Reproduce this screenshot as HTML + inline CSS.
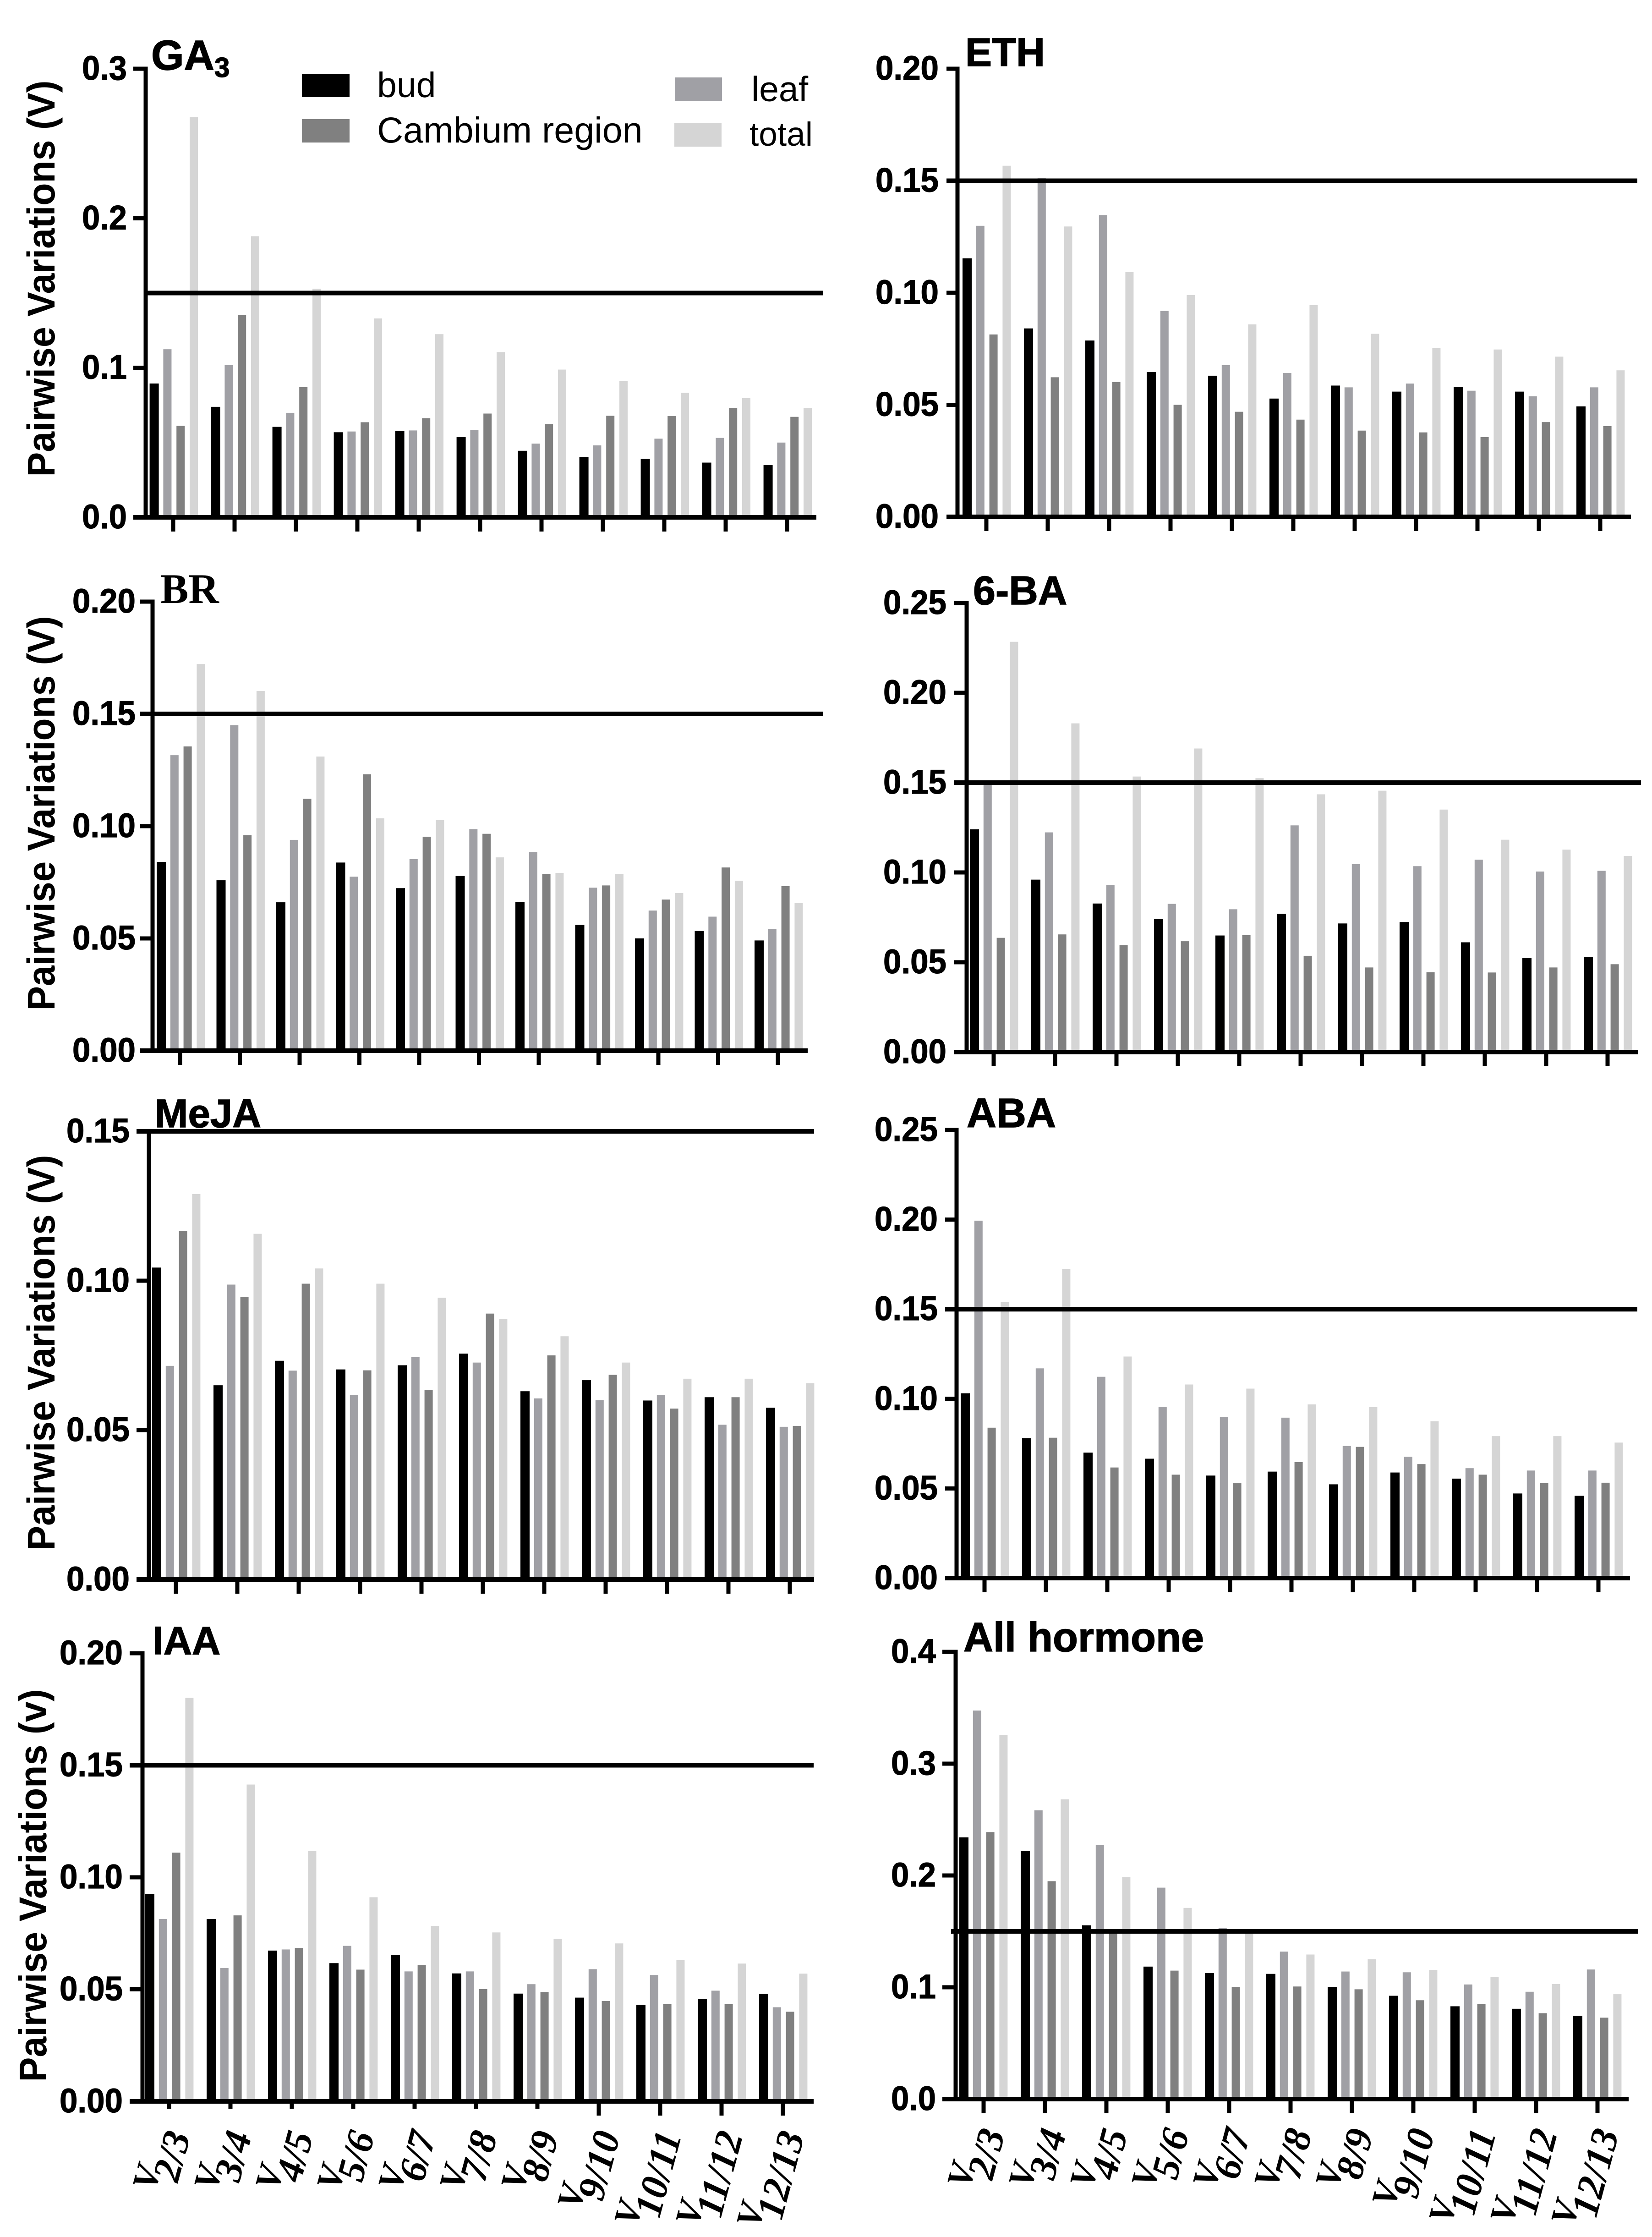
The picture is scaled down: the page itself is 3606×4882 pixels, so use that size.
<!DOCTYPE html>
<html lang="en">
<head>
<meta charset="utf-8">
<title>Pairwise Variations by Hormone</title>
<style>
html,body{margin:0;padding:0;background:#fff}
svg{display:block}
text{font-family:"Liberation Sans",Arial,sans-serif;fill:#000}
.title{font-weight:bold;stroke:#000;stroke-width:1.5px}
.title-serif{font-family:"Liberation Serif",serif;font-weight:bold}
.legend-text{font-size:77px}
.y-title{font-weight:bold;font-size:84px}
.tick-label{font-weight:bold;font-size:74px;stroke:#000;stroke-width:1.2px}
.x-label{font-family:"Liberation Serif",serif;font-weight:bold;font-style:italic;font-size:85px}
</style>
</head>
<body>
<svg id="figure" xmlns="http://www.w3.org/2000/svg" width="3606" height="4882" viewBox="0 0 3606 4882">
  <rect x="0" y="0" width="3606" height="4882" fill="#ffffff"/>
  <g id="charts"></g>

  <g>
    <text class="title" x="330" y="152" font-size="92">GA<tspan font-size="60" dy="16">3</tspan></text>
    <text class="title" x="2107" y="144" font-size="87">ETH</text>
    <text class="title-serif" x="350" y="1316" font-size="92">BR</text>
    <text class="title" x="2124" y="1319" font-size="88">6-BA</text>
    <text class="title" x="338" y="2460" font-size="87">MeJA</text>
    <text class="title" x="2110" y="2460" font-size="90">ABA</text>
    <text class="title" x="333" y="3610" font-size="86">IAA</text>
    <text class="title" x="2103" y="3604" font-size="90">All hormone</text>
  </g>

  <g>
    <text class="y-title" text-anchor="middle" textLength="865" lengthAdjust="spacingAndGlyphs" transform="translate(119 608) rotate(-90)">Pairwise Variations (V)</text>
    <text class="y-title" text-anchor="middle" textLength="861" lengthAdjust="spacingAndGlyphs" transform="translate(119 1775) rotate(-90)">Pairwise Variations (V)</text>
    <text class="y-title" text-anchor="middle" textLength="863" lengthAdjust="spacingAndGlyphs" transform="translate(119 2952) rotate(-90)">Pairwise Variations (V)</text>
    <text class="y-title" text-anchor="middle" textLength="857" lengthAdjust="spacingAndGlyphs" transform="translate(101 4115) rotate(-90)">Pairwise Variations (v)</text>
  </g>

  <g>
    <rect x="659" y="161" width="104" height="51" fill="#000000"/>
    <text class="legend-text" x="823" y="212">bud</text>
    <rect x="659" y="260" width="104" height="51" fill="#808080"/>
    <text class="legend-text" x="823" y="311" style="font-size:79px">Cambium region</text>
    <rect x="1473" y="169" width="103" height="52" fill="#a0a0a5"/>
    <text class="legend-text" x="1640" y="221">leaf</text>
    <rect x="1472" y="268" width="103" height="52" fill="#d5d5d5"/>
    <text class="legend-text" x="1636" y="318" style="font-size:73px">total</text>
  </g>
</svg>

<script>
const categories = ['2/3','3/4','4/5','5/6','6/7','7/8','8/9','9/10','10/11','11/12','12/13'];
const threshold = 0.15;

const ga3Ticks = ['0.0','0.1','0.2','0.3'];
const ga3Bud = [.0895,.0739,.0605,.0569,.0577,.0536,.0445,.0404,.0390,.0366,.0349];
const ga3Leaf = [.1124,.1019,.0699,.0574,.0581,.0584,.0493,.0481,.0526,.0531,.0500];
const ga3Cambium = [.0612,.1352,.0871,.0636,.0663,.0694,.0624,.0679,.0677,.0730,.0672];
const ga3Total = [.2677,.1880,.1529,.1330,.1225,.1105,.0988,.0911,.0833,.0797,.0730];

const ethTicks = ['0.00','0.05','0.10','0.15','0.20'];
const ethBud = [.1154,.0841,.0787,.0646,.0630,.0528,.0586,.0559,.0579,.0559,.0493];
const ethLeaf = [.1299,.1512,.1347,.0919,.0677,.0642,.0578,.0595,.0563,.0538,.0578];
const ethCambium = [.0814,.0623,.0602,.0500,.0469,.0434,.0385,.0377,.0356,.0423,.0405];
const ethTotal = [.1567,.1296,.1093,.0990,.0859,.0945,.0817,.0753,.0747,.0715,.0654];

const brTicks = ['0.00','0.05','0.10','0.15','0.20'];
const brBud = [.0841,.0759,.0661,.0838,.0724,.0778,.0663,.0560,.0500,.0533,.0491];
const brLeaf = [.1316,.1450,.0939,.0775,.0853,.0987,.0884,.0726,.0624,.0597,.0542];
const brCambium = [.1355,.0960,.1122,.1231,.0953,.0966,.0787,.0736,.0673,.0816,.0733];
const brTotal = [.1722,.1602,.1310,.1035,.1028,.0861,.0792,.0786,.0702,.0757,.0657];

const baTicks = ['0.00','0.05','0.10','0.15','0.20','0.25'];
const baBud = [.1240,.0960,.0827,.0741,.0649,.0769,.0716,.0724,.0611,.0523,.0529];
const baLeaf = [.1497,.1223,.0930,.0825,.0795,.1262,.1047,.1035,.1071,.1005,.1009];
const baCambium = [.0636,.0655,.0595,.0617,.0651,.0536,.0471,.0444,.0443,.0471,.0489];
const baTotal = [.2284,.1830,.1534,.1690,.1525,.1435,.1455,.1350,.1182,.1127,.1092];

const mejaTicks = ['0.00','0.05','0.10','0.15'];
const mejaBud = [.1044,.0650,.0732,.0703,.0717,.0756,.0630,.0667,.0599,.0610,.0575];
const mejaLeaf = [.0715,.0987,.0699,.0617,.0744,.0726,.0606,.0600,.0617,.0518,.0511];
const mejaCambium = [.1167,.0946,.0990,.0700,.0635,.0890,.0750,.0685,.0572,.0610,.0514];
const mejaTotal = [.1290,.1157,.1041,.0990,.0943,.0872,.0814,.0726,.0672,.0672,.0657];

const abaTicks = ['0.00','0.05','0.10','0.15','0.20','0.25'];
const abaBud = [.1031,.0781,.0700,.0666,.0572,.0594,.0523,.0589,.0555,.0472,.0459];
const abaLeaf = [.1994,.1170,.1123,.0956,.0899,.0895,.0737,.0677,.0613,.0600,.0600];
const abaCambium = [.0839,.0783,.0617,.0577,.0529,.0647,.0732,.0636,.0577,.0530,.0532];
const abaTotal = [.1539,.1723,.1236,.1080,.1057,.0969,.0954,.0875,.0792,.0792,.0756];

const iaaTicks = ['0.00','0.05','0.10','0.15','0.20'];
const iaaBud = [.0926,.0814,.0673,.0617,.0653,.0571,.0481,.0463,.0430,.0456,.0479];
const iaaLeaf = [.0814,.0595,.0678,.0694,.0580,.0580,.0523,.0590,.0564,.0494,.0420];
const iaaCambium = [.1110,.0830,.0685,.0588,.0608,.0501,.0488,.0448,.0434,.0434,.0400];
const iaaTotal = [.1801,.1414,.1118,.0911,.0783,.0754,.0725,.0705,.0631,.0615,.0570];

const allTicks = ['0.0','0.1','0.2','0.3','0.4'];
const allBud = [.2341,.2217,.1554,.1185,.1127,.1120,.1004,.0924,.0830,.0808,.0743];
const allLeaf = [.3475,.2583,.2272,.1891,.1529,.1319,.1141,.1134,.1025,.0960,.1159];
const allCambium = [.2388,.1949,.1493,.1149,.1000,.1007,.0982,.0884,.0851,.0768,.0728];
const allTotal = [.3254,.2681,.1986,.1710,.1493,.1293,.1250,.1156,.1094,.1029,.0938];

const seriesColors = ['#000000','#a0a0a5','#808080','#d5d5d5'];
const SVGNS = 'http://www.w3.org/2000/svg';
const BAR_W = 18, BUD_W = 20, BAR_STEP = 28.8, GROUP_STEP = 134, AXIS_W = 9, LINE_W = 10;

function make(parent, tag, attrs) {
  const el = document.createElementNS(SVGNS, tag);
  for (const k in attrs) el.setAttribute(k, attrs[k]);
  parent.appendChild(el);
  return el;
}

function drawPanel(box, ticks, series, showLabels) {
  const root = document.getElementById('charts');
  const g = make(root, 'g', {});
  
  

  const maxVal = parseFloat(ticks[ticks.length - 1]);
  const yScale = v => box.y0 - (v / maxVal) * (box.y0 - box.yTop);
  const groupStep = box.groupStep || GROUP_STEP;
  const xBar = (i, s) => box.barLeft + i * groupStep + s * BAR_STEP;
  const xTick = i => box.tick0 + i * groupStep;

  series.forEach((values, s) => {
    values.forEach((v, i) => {
      const bar = make(g, 'rect', {
        x: s === 0 ? xBar(i, s) - 1 : xBar(i, s), y: yScale(v),
        width: s === 0 ? BUD_W : BAR_W,
        height: box.y0 - yScale(v), fill: seriesColors[s]
      });
      
      
    });
  });

  const yAxis = make(g, 'line', {
    x1: box.axisX, x2: box.axisX, y1: yScale(maxVal) - AXIS_W / 2, y2: box.y0,
    stroke: '#000', 'stroke-width': AXIS_W
  });
  
  

  const xAxis = make(g, 'line', {
    x1: box.baseX0, x2: box.baseX1, y1: box.y0, y2: box.y0,
    stroke: '#000', 'stroke-width': LINE_W
  });
  
  

  ticks.forEach(label => {
    const y = yScale(parseFloat(label));
    const tick = make(g, 'line', {
      x1: box.baseX0, x2: box.axisX, y1: y, y2: y,
      stroke: '#000', 'stroke-width': AXIS_W
    });
    
    
    const text = make(g, 'text', {
      class: 'tick-label', x: box.labelRight, y: y + 24, 'text-anchor': 'end',
      textLength: label.length === 4 ? 138 : 98, lengthAdjust: 'spacingAndGlyphs'
    });
    
    
    text.textContent = label;
  });

  categories.forEach((cat, i) => {
    const len = box.tickLens ? box.tickLens(i) : 31;
    const tick = make(g, 'line', {
      x1: xTick(i), x2: xTick(i), y1: box.y0, y2: box.y0 + len,
      stroke: '#000', 'stroke-width': AXIS_W
    });
    
    
    if (showLabels) {
      const ex = xTick(i) + 47, ey = box.y0 + 74;
      const text = make(g, 'text', {
        class: 'x-label', 'text-anchor': 'end',
        transform: 'translate(' + ex + ' ' + ey + ') rotate(-75)'
      });
      
      
      const v = make(text, 'tspan', {'font-size': 78, dy: -43});
      v.textContent = 'V';
      const sub = make(text, 'tspan', {dy: 43, dx: -21});
      sub.textContent = cat;
    }
  });

  const ref = make(g, 'line', {
    x1: box.refX0, x2: box.refX1, y1: yScale(threshold), y2: yScale(threshold),
    stroke: '#000', 'stroke-width': LINE_W
  });
  
  
}

drawPanel({axisX:318,y0:1129,yTop:150,barLeft:327.6,tick0:378,baseX0:291,baseX1:1782,refX0:321,refX1:1797,labelRight:277},
  ga3Ticks,[ga3Bud,ga3Leaf,ga3Cambium,ga3Total],false);
drawPanel({axisX:2090,y0:1128,yTop:150,barLeft:2102,tick0:2153,baseX0:2066,baseX1:3560,refX0:2066,refX1:3574,labelRight:2049},
  ethTicks,[ethBud,ethLeaf,ethCambium,ethTotal],false);
drawPanel({axisX:333,y0:2293,yTop:1313,barLeft:343,tick0:393,groupStep:130.5,baseX0:306,baseX1:1763,refX0:306,refX1:1797,labelRight:296},
  brTicks,[brBud,brLeaf,brCambium,brTotal],false);
drawPanel({axisX:2110,y0:2296,yTop:1316,barLeft:2118,tick0:2169,baseX0:2082,baseX1:3575,refX0:2082,refX1:3582,labelRight:2066},
  baTicks,[baBud,baLeaf,baCambium,baTotal],false);
drawPanel({axisX:325,y0:3447,yTop:2469,barLeft:333,tick0:384,baseX0:298,baseX1:1777,refX0:298,refX1:1777,labelRight:283},
  mejaTicks,[mejaBud,mejaLeaf,mejaCambium,mejaTotal],false);
drawPanel({axisX:2088,y0:3444,yTop:2466,barLeft:2098,tick0:2149,baseX0:2063,baseX1:3558,refX0:2063,refX1:3574,labelRight:2047},
  abaTicks,[abaBud,abaLeaf,abaCambium,abaTotal],false);
drawPanel({axisX:311,y0:4586,yTop:3608,barLeft:318,tick0:369,baseX0:283,baseX1:1776,refX0:283,refX1:1776,labelRight:268,tickLens:i=>i<7?16:31},
  iaaTicks,[iaaBud,iaaLeaf,iaaCambium,iaaTotal],true);
drawPanel({axisX:2086,y0:4581,yTop:3605,barLeft:2095,tick0:2147,baseX0:2057,baseX1:3555,refX0:2076,refX1:3576,labelRight:2043},
  allTicks,[allBud,allLeaf,allCambium,allTotal],true);
</script>
</body>
</html>
